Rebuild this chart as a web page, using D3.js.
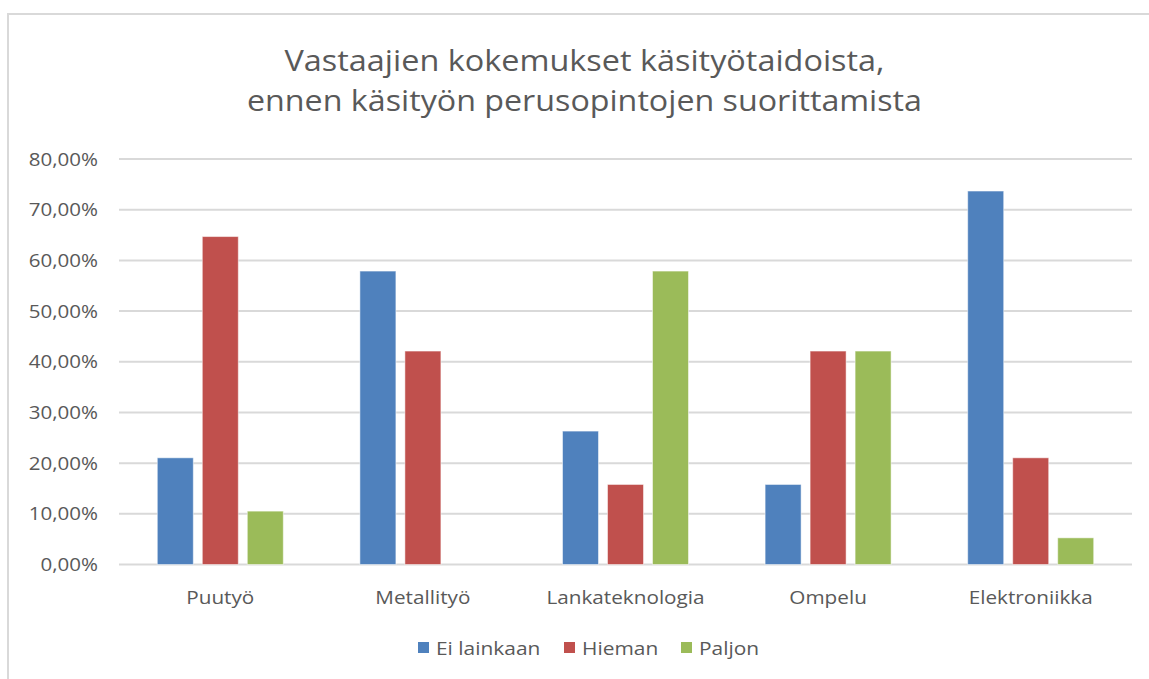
<!DOCTYPE html>
<html>
<head>
<meta charset="utf-8">
<script src="https://cdn.jsdelivr.net/npm/d3@7"></script>
<style>
  html, body { margin: 0; padding: 0; background: #fff; }
  svg { display: block; }
  text { font-family: 'Open Sans', sans-serif; fill: #595959; }
</style>
</head>
<body>
<svg id="chart" width="1149" height="679"></svg>
<script>
const TITLE = ['Vastaajien kokemukset käsityötaidoista,', 'ennen käsityön perusopintojen suorittamista']
const CATEGORIES = ['Puutyö', 'Metallityö', 'Lankateknologia', 'Ompelu', 'Elektroniikka']
const SERIES = ['Ei lainkaan', 'Hieman', 'Paljon']
const EI_LAINKAAN = [21.05, 57.89, 26.32, 15.79, 73.68]
const HIEMAN = [64.7, 42.11, 15.79, 42.11, 21.05]
const PALJON = [10.53, 0, 57.89, 42.11, 5.26]
const Y_TICKS = [0, 10, 20, 30, 40, 50, 60, 70, 80]
const COLORS = ['#4F81BD', '#C0504D', '#9BBB59']

const VALUES = [EI_LAINKAAN, HIEMAN, PALJON]
const svg = d3.select('#chart')

// stretch labels a bit so widths match the original font
const stretch = k => function () {
  const w = this.getComputedTextLength()
  d3.select(this).attr('textLength', w * k).attr('lengthAdjust', 'spacingAndGlyphs')
}

// frame (only top and left edges visible)
svg.append('path')
  .attr('d', 'M8,679 V14 H1149')
  .attr('fill', 'none')
  .attr('stroke', '#d9d9d9')
  .attr('stroke-width', 2)

// title
const titleWidths = [600, 675]
TITLE.forEach((t, i) => {
  svg.append('text')
    .attr('x', 584.5)
    .attr('y', 71 + i * 40)
    .attr('text-anchor', 'middle')
    .attr('font-size', 29)
    .attr('textLength', titleWidths[i])
    .attr('lengthAdjust', 'spacingAndGlyphs')
    .text(t)
})

const x = d3.scaleBand().domain(CATEGORIES).range([119, 1132])
const xs = d3.scaleBand().domain(SERIES).range([-63, 63]).paddingInner(0.2)
const y = d3.scaleLinear().domain([0, 80]).range([564.5, 159])

// gridlines
svg.append('g')
  .selectAll('line')
  .data(Y_TICKS)
  .join('line')
  .attr('x1', 119)
  .attr('x2', 1132)
  .attr('y1', d => y(d))
  .attr('y2', d => y(d))
  .attr('stroke', '#d9d9d9')
  .attr('stroke-width', 2)

// y axis labels
const fmt = d => d3.format('.2f')(d).replace('.', ',') + '%'
svg.append('g')
  .selectAll('text')
  .data(Y_TICKS)
  .join('text')
  .attr('x', 98)
  .attr('y', d => y(d) + 6.5)
  .attr('text-anchor', 'end')
  .attr('font-size', 19)
  .text(fmt)
  .each(stretch(1.08))

// bars
const groups = svg.append('g')
  .selectAll('g')
  .data(CATEGORIES)
  .join('g')
  .attr('transform', d => `translate(${x(d) + x.bandwidth() / 2},0)`)

groups.selectAll('rect')
  .data((c, ci) => SERIES.map((s, si) => ({ s, si, v: VALUES[si][ci] })))
  .join('rect')
  .filter(d => d.v > 0)
  .attr('x', d => xs(d.s))
  .attr('width', xs.bandwidth())
  .attr('y', d => y(d.v))
  .attr('height', d => y(0) - y(d.v))
  .attr('fill', d => COLORS[d.si])
  .attr('stroke', '#fff')
  .attr('stroke-opacity', 0.5)
  .attr('stroke-width', 1)

// category labels
svg.append('g')
  .selectAll('text')
  .data(CATEGORIES)
  .join('text')
  .attr('x', d => x(d) + x.bandwidth() / 2)
  .attr('y', 604)
  .attr('text-anchor', 'middle')
  .attr('font-size', 19)
  .text(d => d)
  .each(stretch(1.09))

// legend
const LEGEND_X = [418, 564, 681]
const legend = svg.append('g')
  .selectAll('g')
  .data(SERIES)
  .join('g')
  .attr('transform', (d, i) => `translate(${LEGEND_X[i]},642)`)
legend.append('rect')
  .attr('width', 11)
  .attr('height', 11)
  .attr('fill', (d, i) => COLORS[i])
legend.append('text')
  .attr('x', 18)
  .attr('y', 13)
  .attr('font-size', 19)
  .text(d => d)
  .each(stretch(1.1))
</script>
</body>
</html>
